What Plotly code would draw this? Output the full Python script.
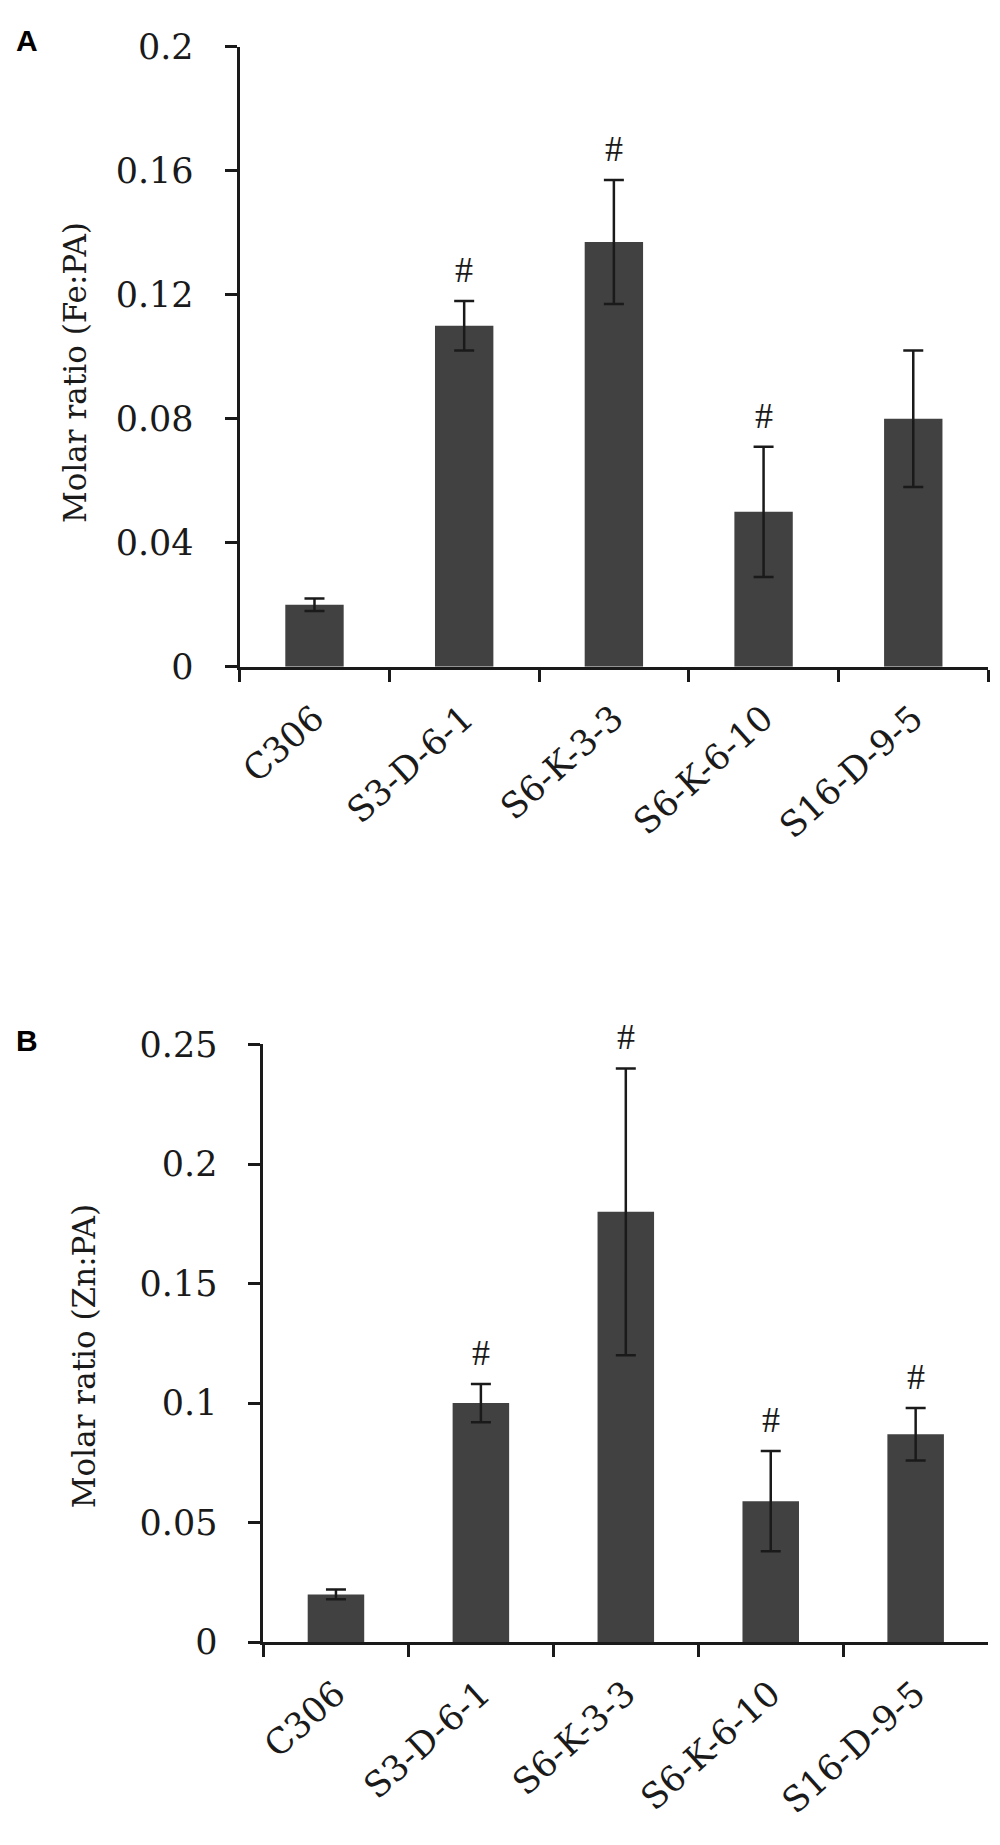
import plotly.graph_objects as go

# ---------------- data ----------------
categories = ["C306", "S3-D-6-1", "S6-K-3-3", "S6-K-6-10", "S16-D-9-5"]

fe_values = [0.020, 0.110, 0.137, 0.050, 0.080]
fe_errors = [0.002, 0.008, 0.020, 0.021, 0.022]
fe_sig = ["", "#", "#", "#", ""]

zn_values = [0.020, 0.100, 0.180, 0.059, 0.087]
zn_errors = [0.002, 0.008, 0.060, 0.021, 0.011]
zn_sig = ["", "#", "#", "#", "#"]

fe_tickvals = [0, 0.04, 0.08, 0.12, 0.16, 0.2]
fe_ticktext = ["0", "0.04", "0.08", "0.12", "0.16", "0.2"]
zn_tickvals = [0, 0.05, 0.1, 0.15, 0.2, 0.25]
zn_ticktext = ["0", "0.05", "0.1", "0.15", "0.2", "0.25"]

fe_title = "Molar ratio (Fe:PA)"
zn_title = "Molar ratio (Zn:PA)"

# ---------------- style ----------------
W, H = 1000, 1845
OFF = 8  # default page body margin in the browser
SERIF = "DejaVu Serif"
TIMES = "Liberation Serif"
BAR_COLOR = "#414141"
INK = "#1a1a1a"

fig = go.Figure()

panels = [
    dict(vals=fe_values, errs=fe_errors, sig=fe_sig, xa="x", ya="y"),
    dict(vals=zn_values, errs=zn_errors, sig=zn_sig, xa="x2", ya="y2"),
]

annotations = []
for p in panels:
    fig.add_trace(go.Bar(
        x=categories, y=p["vals"], xaxis=p["xa"], yaxis=p["ya"],
        marker=dict(color=BAR_COLOR, line=dict(width=0)),
        width=0.39,
        error_y=dict(type="data", array=p["errs"], symmetric=True,
                     color=INK, thickness=2.5, width=10),
        showlegend=False,
    ))
    for c, v, e, s in zip(categories, p["vals"], p["errs"], p["sig"]):
        if s:
            annotations.append(dict(
                x=c, y=v + e, xref=p["xa"], yref=p["ya"], text=s,
                showarrow=False, yanchor="middle", yshift=31,
                font=dict(family=TIMES, size=36, color=INK),
            ))


def px_x(x):
    return (x - OFF) / W


def px_y(y):
    return 1 - (y - OFF) / H


common_x = dict(
    type="category", range=[-0.5, 4.5], tickson="boundaries",
    ticks="outside", ticklen=12, tickwidth=3, tickcolor=INK,
    showline=True, linewidth=3, linecolor=INK, showgrid=False,
    tickangle=-42, tickfont=dict(family=SERIF, size=35, color=INK),
    ticklabelstandoff=14, fixedrange=True,
)
common_y = dict(
    ticks="outside", ticklen=12, tickwidth=3, tickcolor=INK,
    showline=True, linewidth=3, linecolor=INK, showgrid=False, zeroline=False,
    tickfont=dict(family=SERIF, size=35, color=INK), ticklabelstandoff=24,
    fixedrange=True,
)

fig.update_layout(
    width=W, height=H,
    margin=dict(l=0, r=0, t=0, b=0),
    paper_bgcolor="white", plot_bgcolor="white",
    xaxis=dict(common_x, domain=[px_x(235), px_x(988)], anchor="y"),
    yaxis=dict(common_y, domain=[px_y(661), px_y(27)], range=[0, 0.2],
               tickvals=fe_tickvals, ticktext=fe_ticktext, anchor="x"),
    xaxis2=dict(common_x, domain=[px_x(259), px_x(988)], anchor="y2"),
    yaxis2=dict(common_y, domain=[px_y(1658), px_y(1047)], range=[0, 0.25],
                tickvals=zn_tickvals, ticktext=zn_ticktext, anchor="x2"),
)

# axis titles (rotated)
for txt, cx, cy in [(fe_title, 70, 360), (zn_title, 78, 1366)]:
    annotations.append(dict(
        x=px_x(cx), y=px_y(cy), xref="paper", yref="paper", text=txt,
        textangle=-90, showarrow=False, xanchor="center", yanchor="middle",
        font=dict(family=SERIF, size=31, color=INK),
    ))

# panel letters
annotations.append(dict(x=0.0, y=px_y(2), xref="paper", yref="paper", text="<b>A</b>",
                        showarrow=False, xanchor="left", yanchor="top",
                        font=dict(family="Liberation Sans", size=30, color="black")))
annotations.append(dict(x=0.0, y=px_y(1024), xref="paper", yref="paper", text="<b>B</b>",
                        showarrow=False, xanchor="left", yanchor="top",
                        font=dict(family="Liberation Sans", size=30, color="black")))
fig.update_layout(annotations=annotations)

fig.write_html("out.html")
